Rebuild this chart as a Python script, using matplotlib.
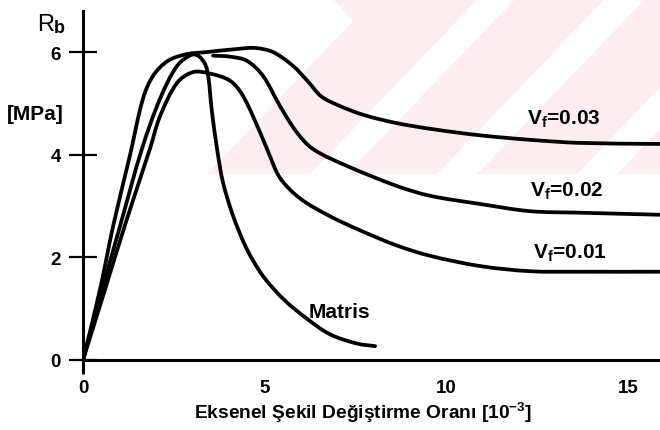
import matplotlib
matplotlib.use("Agg")
import matplotlib.pyplot as plt
from matplotlib.patches import Polygon, PathPatch
from matplotlib.path import Path

plt.rcParams['font.family'] = ['Liberation Sans', 'DejaVu Sans']
plt.rcParams['font.weight'] = 'bold'
plt.rcParams['mathtext.fontset'] = 'custom'
plt.rcParams['mathtext.rm'] = 'Liberation Sans:bold'
plt.rcParams['mathtext.it'] = 'Liberation Sans:bold'
plt.rcParams['mathtext.bf'] = 'Liberation Sans:bold'

# ---- data (strain [10^-3], stress R_b [MPa]) ----
matris_x = [0, 0.5, 1.02, 1.62, 2.12, 2.59, 3.0, 3.22, 3.41, 3.55, 3.69, 3.85, 4.13, 4.51, 4.95, 5.51, 6.17, 6.8, 7.54, 8.04]
matris_y = [0, 1.3, 2.61, 4.11, 5.09, 5.73, 5.95, 5.9, 5.67, 4.83, 4.11, 3.47, 2.81, 2.16, 1.64, 1.19, 0.8, 0.5, 0.32, 0.27]

vf01_x = [0, 0.6, 1.21, 1.84, 2.12, 2.59, 3.03, 3.5, 4.05, 4.4, 4.87, 5.1, 5.42, 5.97, 6.8, 7.71, 8.64, 9.55, 10.93, 12.3, 13.68, 15.88]
vf01_y = [0, 1.36, 2.75, 4.11, 4.75, 5.4, 5.61, 5.58, 5.44, 5.15, 4.44, 4.05, 3.55, 3.15, 2.8, 2.5, 2.23, 2.03, 1.83, 1.73, 1.72, 1.72]

vf02_x = [3.58, 4.05, 4.51, 4.95, 5.42, 5.88, 6.33, 7.27, 8.64, 9.55, 10.93, 12.3, 13.68, 15.88]
vf02_y = [5.93, 5.91, 5.83, 5.54, 4.95, 4.44, 4.11, 3.78, 3.39, 3.2, 3.04, 2.9, 2.87, 2.83]

vf03_x = [0, 0.47, 0.83, 1.29, 1.65, 1.93, 2.34, 2.86, 3.41, 4.24, 4.73, 5.23, 5.78, 6.2, 6.55, 7.0, 7.7, 8.6, 9.6, 10.9, 12.3, 13.68, 15.88]
vf03_y = [0, 1.38, 2.61, 3.98, 5.09, 5.54, 5.83, 5.96, 6.0, 6.06, 6.08, 6.0, 5.73, 5.42, 5.14, 4.97, 4.78, 4.62, 4.5, 4.38, 4.29, 4.23, 4.21]

curve_labels = ['V$_\\mathrm{f}$=0.03', 'V$_\\mathrm{f}$=0.02', 'V$_\\mathrm{f}$=0.01', 'Matris']
label_x = [12.22, 12.3, 12.39, 6.2]
label_y = [4.70, 3.31, 2.10, 0.94]

xticks = [0, 5, 10, 15]
yticks = [0, 2, 4, 6]

W, H = 660, 431
fig = plt.figure(figsize=(W / 100, H / 100), dpi=100)
fig.patch.set_facecolor('white')

# ---- faint watermark in the background (pixel coordinates) ----
def px(points):
    return [(x / W, 1 - y / H) for x, y in points]

pink = '#fdedf0'
region = Polygon(px([(333, 0), (353, 22), (207, 175), (660, 175), (660, 0)]),
                 closed=True, transform=fig.transFigure, facecolor=pink,
                 edgecolor='none', zorder=-2)
fig.add_artist(region)
shift = 168
for b0, b1 in [(310, 347), (437, 477), (577, 617)]:
    stripe = Polygon(px([(b0, 175), (b1, 175), (b1 + shift, 0), (b0 + shift, 0)]),
                     closed=True, transform=fig.transFigure, facecolor='white',
                     edgecolor='none', zorder=-1)
    fig.add_artist(stripe)

ax = fig.add_axes([83 / W, 70 / H, (W - 83) / W, (361 - 12) / H])
ax.set_facecolor('none')
ax.set_xlim(0, 15.88)
ax.set_ylim(0, 6.8)

SX, SY = 36.33, 51.3  # approx. pixels per data unit, for chord lengths


def smooth_path(xs, ys):
    """Chord-length Catmull-Rom curve through the points, as cubic Bezier segments."""
    pts = list(zip(xs, ys))
    n = len(pts)
    t = [0.0]
    for i in range(1, n):
        dx = (pts[i][0] - pts[i - 1][0]) * SX
        dy = (pts[i][1] - pts[i - 1][1]) * SY
        t.append(t[-1] + max((dx * dx + dy * dy) ** 0.5, 1e-6))
    tang = []
    for i in range(n):
        a = max(i - 1, 0)
        b = min(i + 1, n - 1)
        dt = t[b] - t[a]
        tang.append(((pts[b][0] - pts[a][0]) / dt, (pts[b][1] - pts[a][1]) / dt))
    verts = [pts[0]]
    codes = [Path.MOVETO]
    for i in range(n - 1):
        h = (t[i + 1] - t[i]) / 3
        c1 = (pts[i][0] + tang[i][0] * h, pts[i][1] + tang[i][1] * h)
        c2 = (pts[i + 1][0] - tang[i + 1][0] * h, pts[i + 1][1] - tang[i + 1][1] * h)
        verts += [c1, c2, pts[i + 1]]
        codes += [Path.CURVE4] * 3
    return Path(verts, codes)


lw = 2.7
for xs, ys in [(matris_x, matris_y), (vf01_x, vf01_y), (vf02_x, vf02_y), (vf03_x, vf03_y)]:
    patch = PathPatch(smooth_path(xs, ys), facecolor='none', edgecolor='black',
                      lw=lw, capstyle='round', joinstyle='round', transform=ax.transData)
    ax.add_patch(patch)

for t_, x, y in zip(curve_labels, label_x, label_y):
    ax.text(x, y, t_, fontsize=15, fontweight='bold', ha='left', va='center')

for s in ['top', 'right']:
    ax.spines[s].set_visible(False)
for s in ['left', 'bottom']:
    ax.spines[s].set_linewidth(2.2)

ax.set_xticks(xticks)
ax.set_yticks(yticks)
ax.set_xticklabels([str(v) for v in xticks])
ax.set_yticklabels([str(v) for v in yticks])
ax.tick_params(axis='y', direction='inout', length=20, width=1.6, pad=6, labelsize=13.5)
ax.tick_params(axis='x', direction='out', length=10, width=2.2, pad=4, labelsize=13.5)
for tk in ax.xaxis.get_major_ticks()[1:]:
    tk.tick1line.set_visible(False)

ax.set_xlabel('Eksenel Şekil Değiştirme Oranı [10$^{\\mathrm{-3}}$]', fontsize=13.8,
              fontweight='bold')
ax.xaxis.set_label_coords((363 - 83) / (W - 83), -(413 - 361) / (361 - 12), transform=ax.transAxes)
ax.xaxis.label.set_va('center')

fig.text(37 / W, 1 - 31 / H, 'R', fontsize=17, fontweight='normal', ha='left', va='baseline')
fig.text(54 / W, 1 - 33 / H, 'b', fontsize=13, fontweight='bold', ha='left', va='baseline')
fig.text(7 / W, 1 - 115 / H, '[MPa]', fontsize=15, fontweight='bold', ha='left', va='center')

fig.savefig('out.png', dpi=100)
